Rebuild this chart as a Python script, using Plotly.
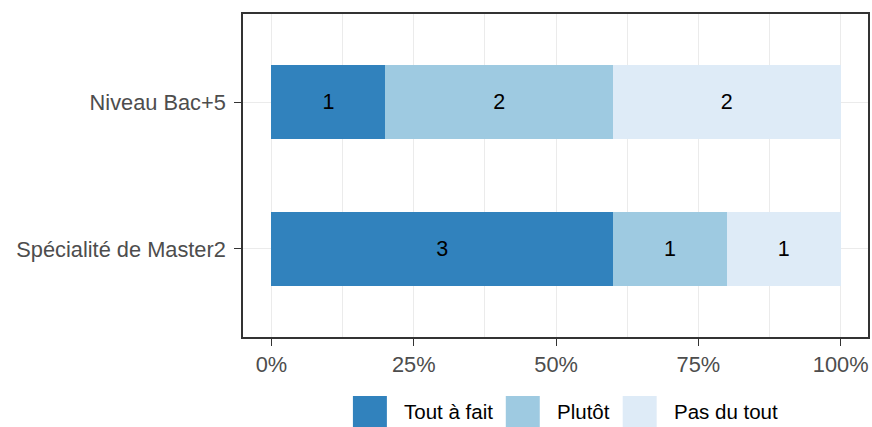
import plotly.graph_objects as go

categories = ["Spécialité de Master2", "Niveau Bac+5"]
responses = ["Tout à fait", "Plutôt", "Pas du tout"]
counts = {
    "Tout à fait": [3, 1],
    "Plutôt": [1, 2],
    "Pas du tout": [1, 2],
}
colors = ["#3182BD", "#9ECAE1", "#DEEBF7"]
x_ticks = [0, 0.25, 0.5, 0.75, 1.0]
x_tick_labels = ["0%", "25%", "50%", "75%", "100%"]

totals = [sum(counts[r][i] for r in responses) for i in range(len(categories))]

W, H = 872, 427
ML, MR, MT, MB = 243, 3.5, 14, 90
FONT = "Liberation Sans, Arial, sans-serif"
FS = 21.8
FS_LEG = 20.5

fig = go.Figure()
for r, c in zip(responses, colors):
    fig.add_trace(go.Bar(
        y=categories,
        x=[counts[r][i] / totals[i] for i in range(len(categories))],
        orientation="h",
        name=r,
        marker=dict(color=c, line=dict(width=0)),
        width=0.5,
        text=[str(v) for v in counts[r]],
        textposition="inside",
        insidetextanchor="middle",
        textfont=dict(color="black", size=21.5, family=FONT),
        showlegend=False,
    ))

# manual legend (ggplot style large keys)
pw = W - ML - MR
ph = H - MT - MB
def px_x(p):
    return (p - ML) / pw
def px_y(p):
    return (H - MB - p) / ph

key_left = [353, 506, 623]
key_w, key_top, key_bot = 34, 396, 427
shapes = []
annotations = []
for r, c, kx in zip(responses, colors, key_left):
    shapes.append(dict(type="rect", xref="paper", yref="paper",
                       x0=px_x(kx), x1=px_x(kx + key_w),
                       y0=px_y(key_bot), y1=px_y(key_top),
                       fillcolor=c, line=dict(width=0), layer="above"))
    annotations.append(dict(xref="paper", yref="paper",
                            x=px_x(kx + key_w + 15), y=px_y((key_top + key_bot) / 2),
                            text=r, showarrow=False, xanchor="left", yanchor="middle",
                            font=dict(color="black", size=FS_LEG, family=FONT)))

fig.update_layout(
    barmode="stack",
    width=W, height=H,
    margin=dict(l=ML, r=MR, t=MT, b=MB, pad=0),
    plot_bgcolor="white", paper_bgcolor="white",
    font=dict(family=FONT, size=FS, color="#4D4D4D"),
    shapes=shapes,
    annotations=annotations,
    xaxis=dict(
        range=[-0.05, 1.048],
        tickvals=x_ticks, ticktext=x_tick_labels,
        showgrid=True, gridcolor="#EBEBEB", gridwidth=1.2,
        minor=dict(tickvals=[0.125, 0.375, 0.625, 0.875], showgrid=True,
                   gridcolor="#EBEBEB", gridwidth=0.6),
        zeroline=False,
        showline=True, linecolor="#333333", linewidth=1.5, mirror=True,
        ticks="outside", ticklen=7, tickwidth=1.3, tickcolor="#333333",
        tickfont=dict(size=FS, color="#4D4D4D", family=FONT),
        fixedrange=True,
    ),
    yaxis=dict(
        categoryorder="array", categoryarray=categories,
        range=[-0.6, 1.6],
        showgrid=True, gridcolor="#EBEBEB", gridwidth=1.2,
        zeroline=False,
        showline=True, linecolor="#333333", linewidth=1.5, mirror=True,
        ticks="outside", ticklen=7, tickwidth=1.3, tickcolor="#333333",
        tickfont=dict(size=FS, color="#4D4D4D", family=FONT),
        ticklabelstandoff=4,
        fixedrange=True,
    ),
)

fig.write_html("out.html",
               config={"displayModeBar": False},
               post_script="document.body.style.margin='0';document.body.style.overflow='hidden';")
